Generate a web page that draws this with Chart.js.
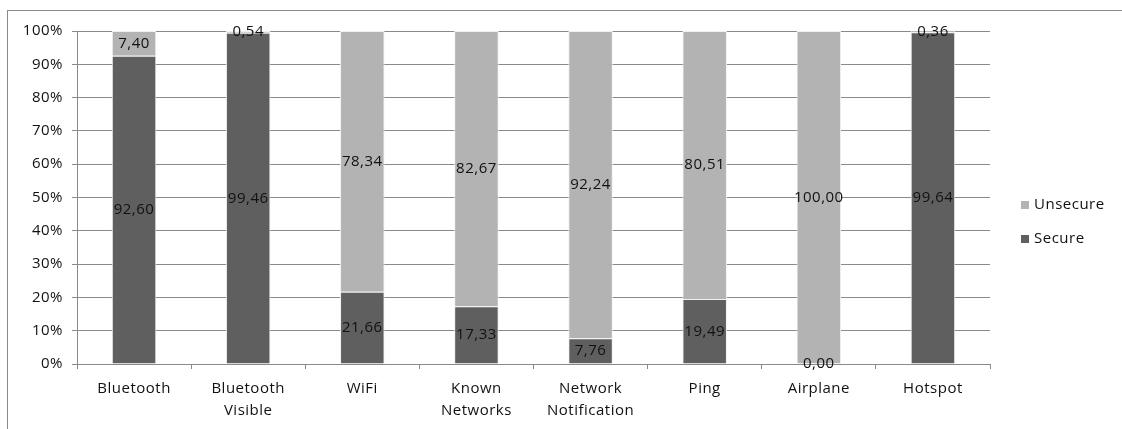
<!DOCTYPE html>
<html><head><meta charset="utf-8">
<script src="https://cdn.jsdelivr.net/npm/chart.js@4/dist/chart.umd.min.js"></script>
<style>
html,body{margin:0;padding:0;background:#fff;overflow:hidden}
#frame{position:absolute;left:7px;top:10px;width:1130px;height:430px;border:1px solid #8a8a8a;box-sizing:border-box}
#wrap{position:absolute;left:0;top:0;width:1122px;height:429px}
</style></head><body>
<div id="frame"></div>
<div id="wrap"><canvas id="c" width="1122" height="429"></canvas></div>
<script>
const categories = [["Bluetooth"],["Bluetooth","Visible"],["WiFi"],["Known","Networks"],["Network","Notification"],["Ping"],["Airplane"],["Hotspot"]];
const secure = [92.60, 99.46, 21.66, 17.33, 7.76, 19.49, 0.00, 99.64];
const unsecure = [7.40, 0.54, 78.34, 82.67, 92.24, 80.51, 100.00, 0.36];
const yTicks = [0,10,20,30,40,50,60,70,80,90,100];
const seriesNames = ["Secure","Unsecure"];
const colors = ["#5f5f5f","#b3b3b3"];
const FONT = "'Open Sans', sans-serif";
const SPACING = '0.5px';
const TEXT = '#111111';

const spacingPlugin = {
  id:'spacing',
  beforeDraw(chart){ chart.ctx.letterSpacing = SPACING; }
};

const labelPlugin = {
  id:'segLabels',
  afterDatasetsDraw(chart){
    const ctx = chart.ctx;
    ctx.save();
    ctx.letterSpacing = SPACING;
    ctx.font = "15px " + FONT;
    ctx.fillStyle = TEXT;
    ctx.textAlign = "center";
    ctx.textBaseline = "middle";
    const y = chart.scales.y;
    chart.data.datasets.forEach((ds, di) => {
      const meta = chart.getDatasetMeta(di);
      meta.data.forEach((bar, i) => {
        let base = 0;
        for (let k = 0; k < di; k++) base += chart.data.datasets[k].data[i];
        const v = ds.data[i];
        const cy = y.getPixelForValue(base + v/2);
        ctx.fillText(v.toFixed(2).replace('.', ','), bar.x, cy);
      });
    });
    // legend
    const items = [[seriesNames[1], colors[1], 205], [seriesNames[0], colors[0], 239]];
    ctx.textAlign = "left";
    items.forEach(([name, col, yy]) => {
      ctx.fillStyle = col;
      ctx.fillRect(1021, yy-4, 8, 8);
      ctx.fillStyle = TEXT;
      ctx.fillText(name, 1034, yy);
    });
    ctx.restore();
  }
};

new Chart(document.getElementById('c'), {
  type:'bar',
  data:{
    labels: categories,
    datasets:[
      {label:seriesNames[0], data:secure, backgroundColor:colors[0], borderColor:'#f0f0f0', borderWidth:1, barPercentage:0.39, categoryPercentage:1},
      {label:seriesNames[1], data:unsecure, backgroundColor:colors[1], borderColor:'#f0f0f0', borderWidth:1, barPercentage:0.39, categoryPercentage:1}
    ]
  },
  plugins:[spacingPlugin, labelPlugin],
  options:{
    responsive:false, animation:false,
    layout:{padding:{left:0, right:132, top:31, bottom:0}},
    plugins:{legend:{display:false}, tooltip:{enabled:false}},
    scales:{
      x:{stacked:true,
        grid:{display:true, drawOnChartArea:false, offset:true, tickLength:5, color:'#8a8a8a'},
        border:{display:true, color:'#8a8a8a'},
        ticks:{font:{family:FONT, size:15, lineHeight:1.5}, color:TEXT, padding:8, maxRotation:0, autoSkip:false},
        afterFit(s){ s.height = 65; }
      },
      y:{stacked:true, min:0, max:100,
        afterBuildTicks(s){ s.ticks = yTicks.map(v=>({value:v})); },
        grid:{color:'#8a8a8a', tickLength:5},
        border:{display:true, color:'#8a8a8a'},
        ticks:{font:{family:FONT, size:15}, color:TEXT, padding:9, callback:v=>v+'%'},
        afterFit(s){ s.width = 77; }
      }
    }
  }
});
</script>
</body></html>
